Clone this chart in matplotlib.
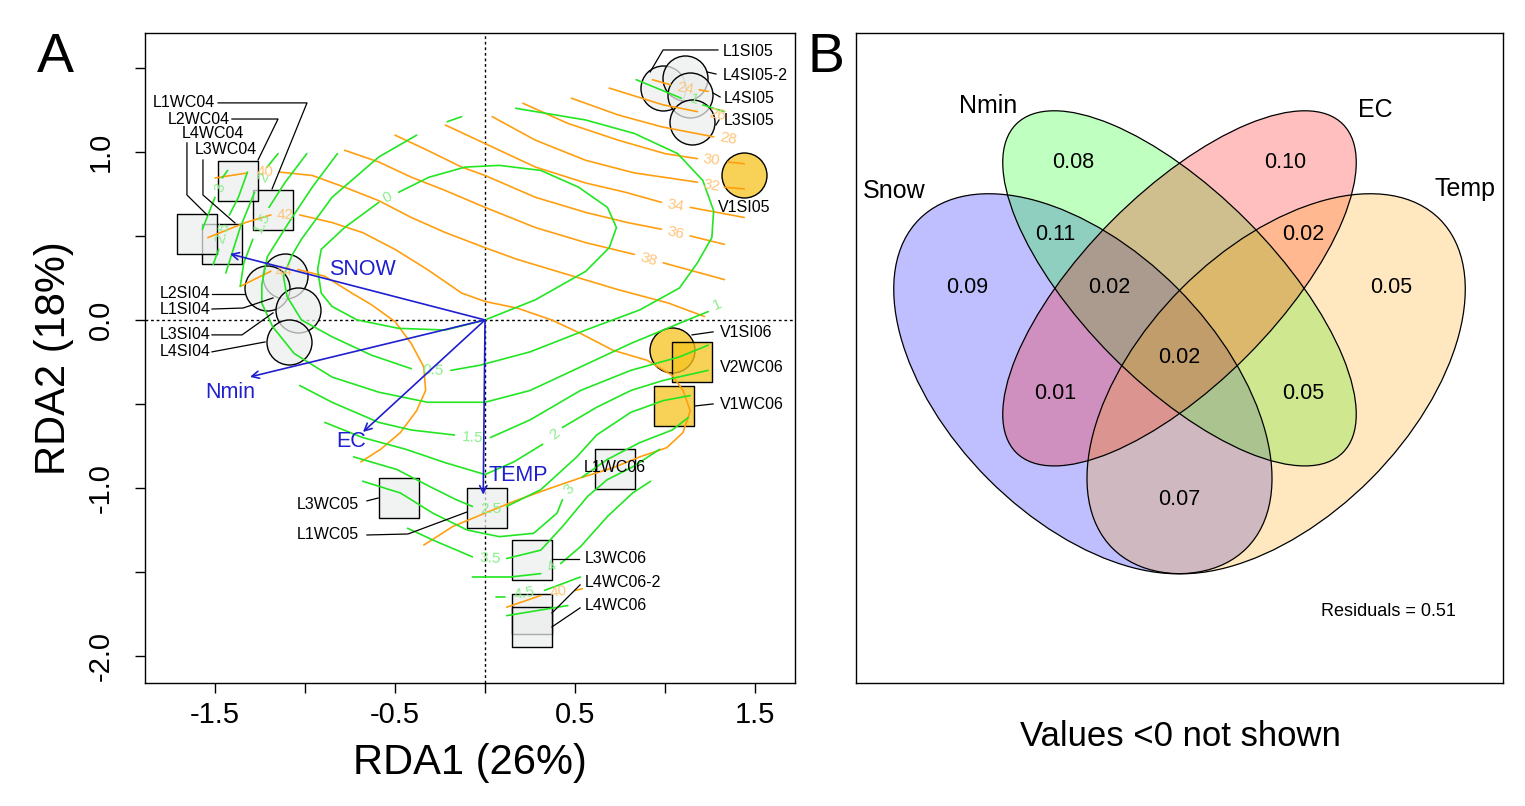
import numpy as np
import matplotlib
matplotlib.use("Agg")
import matplotlib.pyplot as plt
from matplotlib.patches import Ellipse

plt.rcParams['font.family'] = ['Liberation Sans', 'DejaVu Sans']
plt.rcParams['axes.unicode_minus'] = False

# ------------------------------------------------------------------ data (panel A)
site_names = ["L1SI05", "L4SI05-2", "L4SI05", "L3SI05", "V1SI05", "V1SI06",
              "L1SI04", "L2SI04", "L3SI04", "L4SI04",
              "L1WC04", "L2WC04", "L3WC04", "L4WC04",
              "V2WC06", "V1WC06", "L1WC06", "L3WC05", "L1WC05", "L3WC06",
              "L4WC06-2", "L4WC06"]
site_x = [0.99, 1.11, 1.14, 1.15, 1.44, 1.04,
          -1.11, -1.21, -1.04, -1.09,
          -1.18, -1.37, -1.46, -1.60,
          1.15, 1.05, 0.72, -0.48, 0.01, 0.26,
          0.26, 0.26]
site_y = [1.38, 1.44, 1.34, 1.18, 0.86, -0.18,
          0.26, 0.19, 0.06, -0.13,
          0.655, 0.83, 0.45, 0.51,
          -0.25, -0.51, -0.89, -1.06, -1.12, -1.43,
          -1.75, -1.83]
site_shape = ["o", "o", "o", "o", "o", "o",
              "o", "o", "o", "o",
              "s", "s", "s", "s",
              "s", "s", "s", "s", "s", "s",
              "s", "s"]
site_group = ["L", "L", "L", "L", "V", "V",
              "L", "L", "L", "L",
              "L", "L", "L", "L",
              "V", "V", "L", "L", "L", "L",
              "L", "L"]

# label text positions and leader lines
lab_names = ["L1SI05", "L4SI05-2", "L4SI05", "L3SI05", "V1SI05", "V1SI06", "V2WC06", "V1WC06",
             "L1WC06", "L3WC05", "L1WC05", "L3WC06", "L4WC06-2", "L4WC06",
             "L2SI04", "L1SI04", "L3SI04", "L4SI04",
             "L1WC04", "L2WC04", "L4WC04", "L3WC04"]
lab_x = [1.322, 1.322, 1.328, 1.328, 1.294, 1.306, 1.306, 1.306,
         0.55, -1.044, -1.044, 0.556, 0.556, 0.556,
         -1.806, -1.806, -1.806, -1.806,
         -1.844, -1.761, -1.683, -1.611]
lab_y = [1.595, 1.458, 1.321, 1.185, 0.667, -0.077, -0.286, -0.506,
         -0.88, -1.10, -1.28, -1.417, -1.565, -1.702,
         0.155, 0.06, -0.089, -0.19,
         1.292, 1.196, 1.107, 1.012]
leaders = [
    [(0.917, 1.476), (0.989, 1.607), (1.294, 1.607)],
    [(1.233, 1.476), (1.283, 1.464)],
    [(1.267, 1.351), (1.306, 1.327)],
    [(1.283, 1.161), (1.30, 1.19)],
    [],
    [(1.15, -0.089), (1.267, -0.071)],
    [],
    [(1.167, -0.512), (1.267, -0.50)],
    [],
    [(-0.656, -1.077), (-0.594, -1.06)],
    [(-0.656, -1.28), (-0.428, -1.274), (-0.10, -1.143)],
    [(0.372, -1.423), (0.522, -1.423)],
    [(0.528, -1.577), (0.372, -1.744)],
    [(0.528, -1.714), (0.372, -1.827)],
    [(-1.517, 0.155), (-1.339, 0.155)],
    [(-1.517, 0.065), (-1.344, 0.071), (-1.178, 0.131)],
    [(-1.517, -0.089), (-1.35, -0.089), (-1.178, 0.042)],
    [(-1.517, -0.19), (-1.222, -0.131)],
    [(-1.483, 1.292), (-0.989, 1.292), (-1.183, 0.78)],
    [(-1.406, 1.196), (-1.15, 1.196), (-1.261, 0.952)],
    [(-1.656, 1.054), (-1.656, 0.744), (-1.544, 0.625)],
    [(-1.567, 0.952), (-1.567, 0.744), (-1.389, 0.577)],
]

# environmental arrows
env_names = ["SNOW", "Nmin", "EC", "TEMP"]
env_x = [-1.417, -1.306, -0.678, -0.01]
env_y = [0.393, -0.339, -0.667, -1.04]
env_lab_x = [-0.683, -1.417, -0.744, 0.183]
env_lab_y = [0.298, -0.429, -0.726, -0.923]

# orange contour traces (second fitted surface), segments split at labels
o24 = [[(0.93, 1.43), (1.03, 1.40)], [(1.19, 1.37), (1.24, 1.36)]]
o26 = [[(0.69, 1.38), (0.99, 1.28), (1.18, 1.24)]]
o28 = [[(0.48, 1.32), (0.74, 1.22), (0.98, 1.15), (1.27, 1.09)]]
o30 = [[(0.21, 1.29), (0.46, 1.17), (0.74, 1.07), (1.00, 0.99), (1.18, 0.96)],
       [(1.35, 0.94), (1.44, 0.93)]]
o32 = [[(0.04, 1.21), (0.28, 1.07), (0.56, 0.95), (0.83, 0.875), (1.18, 0.82)],
       [(1.33, 0.79), (1.44, 0.78)]]
o34 = [[(-0.22, 1.16), (0.0, 1.05), (0.28, 0.91), (0.56, 0.815), (0.78, 0.76), (0.98, 0.70)],
       [(1.14, 0.67), (1.44, 0.61)]]
o36 = [[(-0.50, 1.10), (-0.32, 1.01), (-0.13, 0.91), (0.0, 0.86), (0.28, 0.73), (0.56, 0.64),
        (0.79, 0.58), (0.98, 0.54)],
       [(1.14, 0.50), (1.33, 0.45)]]
o38 = [[(-0.78, 1.01), (-0.59, 0.94), (-0.41, 0.85), (-0.22, 0.77), (0.0, 0.67), (0.28, 0.55),
        (0.56, 0.46), (0.83, 0.39)],
       [(0.99, 0.34), (1.33, 0.24)]]
o40 = [[(-1.50, 0.845), (-1.32, 0.875)],
       [(-1.14, 0.88), (-0.96, 0.86), (-0.78, 0.79), (-0.59, 0.71), (-0.41, 0.61), (-0.22, 0.52),
        (0.0, 0.43), (0.18, 0.36), (0.46, 0.27), (0.74, 0.18), (1.02, 0.10), (1.22, 0.02)]]
o42 = [[(-1.54, 0.49), (-1.33, 0.58), (-1.19, 0.625)],
       [(-1.03, 0.625), (-0.85, 0.58), (-0.68, 0.52), (-0.50, 0.42), (-0.32, 0.30), (-0.13, 0.16),
        (0.0, 0.11), (0.18, 0.07), (0.37, 0.0), (0.53, -0.08), (0.71, -0.18), (0.90, -0.24),
        (1.04, -0.33), (1.10, -0.42), (1.14, -0.54), (1.10, -0.67), (1.01, -0.76), (0.86, -0.815),
        (0.71, -0.88), (0.53, -0.94), (0.34, -1.01), (0.16, -1.08), (0.0, -1.15), (-0.18, -1.23),
        (-0.34, -1.34)]]
o44 = [[(-1.36, 0.20), (-1.19, 0.29)],
       [(-1.04, 0.30), (-0.89, 0.26), (-0.74, 0.16), (-0.63, 0.09), (-0.50, -0.01), (-0.41, -0.14),
        (-0.34, -0.28), (-0.33, -0.42), (-0.38, -0.54), (-0.47, -0.67), (-0.58, -0.77),
        (-0.69, -0.845)]]
o40b = [[(0.12, -1.71), (0.31, -1.64)], [(0.50, -1.61), (0.54, -1.60)]]
orange_contours = [o24, o26, o28, o30, o32, o34, o36, o38, o40, o42, o44, o40b]
orange_lab_text = ["24", "26", "28", "30", "32", "34", "36", "38", "40", "42", "44", "40"]
orange_lab_x = [1.11, 1.29, 1.35, 1.26, 1.26, 1.06, 1.06, 0.91, -1.22, -1.11, -1.12, 0.41]
orange_lab_y = [1.38, 1.22, 1.08, 0.95, 0.80, 0.68, 0.52, 0.36, 0.88, 0.625, 0.29, -1.62]

# green contour traces (first fitted surface)
g0 = [[(-0.48, 0.76), (-0.31, 0.85), (-0.11, 0.91), (0.08, 0.92), (0.31, 0.89), (0.52, 0.79),
       (0.68, 0.67), (0.73, 0.55), (0.69, 0.43), (0.56, 0.29), (0.28, 0.12), (0.0, 0.0),
       (-0.22, -0.06), (-0.48, -0.05), (-0.71, 0.0), (-0.85, 0.08), (-0.91, 0.16), (-0.93, 0.30),
       (-0.91, 0.42), (-0.78, 0.55), (-0.59, 0.70)]]
g05 = [[(-0.41, -0.29), (-0.63, -0.21), (-0.85, -0.10), (-1.02, 0.0), (-1.10, 0.14), (-1.12, 0.26),
        (-1.07, 0.39), (-1.02, 0.48), (-0.85, 0.73), (-0.59, 0.97), (-0.38, 1.10)],
       [(-0.21, 1.18), (-0.13, 1.21)],
       [(0.17, 1.26), (0.56, 1.19), (0.83, 1.11), (1.07, 0.99), (1.21, 0.83), (1.27, 0.65),
        (1.26, 0.49), (1.18, 0.34), (1.08, 0.19), (0.86, 0.06), (0.56, -0.06), (0.25, -0.19),
        (-0.03, -0.27), (-0.19, -0.30)]]
g1 = [[(-0.82, 0.99), (-0.96, 0.79), (-1.09, 0.58), (-1.21, 0.375), (-1.24, 0.21), (-1.24, 0.10),
       (-1.18, -0.04), (-1.06, -0.20), (-0.85, -0.34), (-0.59, -0.43), (-0.32, -0.49), (0.0, -0.49),
       (0.25, -0.42), (0.53, -0.28), (0.81, -0.14), (1.08, -0.02), (1.24, 0.05)],
      [(0.84, 1.43), (1.09, 1.32)], [(1.21, 1.28), (1.33, 1.24)]]
g15 = [[(-0.99, 0.99), (-1.11, 0.82), (-1.20, 0.67)],
       [(-1.29, 0.48), (-1.34, 0.34), (-1.36, 0.20)],
       [(-1.03, -0.39), (-0.85, -0.49), (-0.59, -0.61), (-0.41, -0.655), (-0.17, -0.685)],
       [(0.03, -0.70), (0.25, -0.595), (0.53, -0.42), (0.81, -0.30), (1.08, -0.22), (1.24, -0.15)]]
g2 = [[(-1.15, 0.99), (-1.21, 0.91)],
      [(-1.28, 0.76), (-1.36, 0.55), (-1.44, 0.28)],
      [(-0.89, -0.61), (-0.68, -0.70), (-0.44, -0.77), (-0.22, -0.85), (0.0, -0.92), (0.16, -0.845),
       (0.32, -0.74)],
      [(0.43, -0.64), (0.62, -0.52), (0.81, -0.42), (0.99, -0.36), (1.24, -0.30)]]
g25 = [[(-1.32, 0.88), (-1.37, 0.73), (-1.42, 0.625)],
       [(-1.48, 0.42), (-1.51, 0.33)],
       [(-0.73, -0.815), (-0.49, -0.89), (-0.31, -0.99), (-0.16, -1.07), (-0.07, -1.11)],
       [(0.12, -1.11), (0.31, -1.01), (0.51, -0.815), (0.62, -0.685), (0.81, -0.55), (0.99, -0.48),
        (1.14, -0.45)]]
g3 = [[(-1.43, 0.89), (-1.46, 0.845)],
      [(-1.50, 0.73), (-1.57, 0.54)],
      [(-0.68, -0.96), (-0.47, -1.03), (-0.29, -1.15), (-0.10, -1.25), (0.08, -1.29), (0.27, -1.27),
       (0.40, -1.15), (0.43, -1.07)],
      [(0.54, -0.935), (0.68, -0.83), (0.86, -0.73), (1.04, -0.655), (1.13, -0.58)]]
g35 = [[(-0.43, -1.24), (-0.29, -1.31), (-0.07, -1.41)],
       [(0.12, -1.42), (0.31, -1.37), (0.43, -1.23), (0.57, -1.05), (0.68, -0.95), (0.82, -0.875),
        (0.97, -0.77)]]
g4 = [[(-0.07, -1.53), (0.14, -1.53), (0.31, -1.51)],
      [(0.42, -1.45), (0.53, -1.35), (0.68, -1.17), (0.82, -1.03), (0.92, -0.96)]]
g45 = [[(0.06, -1.65), (0.11, -1.65)], [(0.33, -1.61), (0.53, -1.53)]]
g5 = [[(0.12, -1.76), (0.46, -1.70)]]
green_contours = [g0, g05, g1, g15, g2, g25, g3, g35, g4, g45, g5]
green_lab_text = ["0", "0.5", "1", "1", "1.5", "1.5", "2", "2", "2.5", "2.5", "3", "3", "3.5", "4", "4.5"]
green_lab_x = [-0.54, -0.29, 1.29, 1.16, -1.24, -0.07, -1.23, 0.39, -1.46, 0.03, -1.47, 0.47, 0.03, 0.37, 0.22]
green_lab_y = [0.73, -0.30, 0.09, 1.31, 0.58, -0.70, 0.85, -0.68, 0.52, -1.125, 0.79, -1.01, -1.42, -1.47, -1.625]

x_ticks = [-1.5, -1.0, -0.5, 0.0, 0.5, 1.0, 1.5]
x_ticklabels = ["-1.5", "", "-0.5", "", "0.5", "", "1.5"]
y_ticks = [-2.0, -1.5, -1.0, -0.5, 0.0, 0.5, 1.0, 1.5]
y_ticklabels = ["-2.0", "", "-1.0", "", "0.0", "", "1.0", ""]

# ------------------------------------------------------------------ data (panel B)
venn_sets = ["Snow", "Nmin", "EC", "Temp"]
venn_fracs = ["0.08", "0.10", "0.11", "0.02", "0.09", "0.02", "0.05", "0.02", "0.01", "0.05", "0.07"]
residuals = 0.51

# ------------------------------------------------------------------ figure
fig = plt.figure(figsize=(15.25, 8.06), dpi=100)
axA = fig.add_axes([145 / 1525, 123 / 806, 650 / 1525, 650 / 806])
axA.set_xlim(-1.889, 1.722)
axA.set_ylim(-2.161, 1.708)

GRAY_FC = (0.925, 0.935, 0.935, 0.72)
GOLD_FC = (0.96, 0.77, 0.13, 0.76)
for nm, x, y, mk, grp in zip(site_names, site_x, site_y, site_shape, site_group):
    fc = GOLD_FC if grp == "V" else GRAY_FC
    s = 1050 if mk == "o" else 870
    axA.scatter([x], [y], s=s, marker=mk, facecolors=[fc], edgecolors="black",
                linewidths=1.0, zorder=2)

GREEN = "#22e622"
ORANGE = "#ff9f10"
GREEN_LAB = "#8cee8c"
ORANGE_LAB = "#ffc57a"


def draw_contours(ax, contours, color):
    for segs in contours:
        for seg in segs:
            xs = [p[0] for p in seg]
            ys = [p[1] for p in seg]
            ax.plot(xs, ys, color=color, lw=1.2, zorder=3, solid_capstyle="round",
                    solid_joinstyle="round")


def label_contours(ax, contours, texts, xs, ys, color):
    T = ax.transData
    for t, lx, ly in zip(texts, xs, ys):
        lp = T.transform((lx, ly))
        best = None
        for segs in contours:
            pts = np.array([p for seg in segs for p in seg])
            dp = T.transform(pts)
            d = np.hypot(dp[:, 0] - lp[0], dp[:, 1] - lp[1])
            if best is None or d.min() < best[0]:
                best = (d.min(), dp, d)
        _, dp, d = best
        order = np.argsort(d)
        p1, p2 = dp[order[0]], dp[order[1]]
        ang = np.degrees(np.arctan2(p2[1] - p1[1], p2[0] - p1[0]))
        if ang > 90:
            ang -= 180
        if ang < -90:
            ang += 180
        ax.text(lx, ly, t, color=color, fontsize=11, rotation=ang, rotation_mode="anchor",
                ha="center", va="center", zorder=4)


draw_contours(axA, orange_contours, ORANGE)
draw_contours(axA, green_contours, GREEN)
label_contours(axA, orange_contours, orange_lab_text, orange_lab_x, orange_lab_y, ORANGE_LAB)
label_contours(axA, green_contours, green_lab_text, green_lab_x, green_lab_y, GREEN_LAB)

axA.axhline(0, color="black", lw=1.0, ls=(0, (2, 2)), zorder=1)
axA.axvline(0, color="black", lw=1.0, ls=(0, (2, 2)), zorder=1)

BLUE = "#1f1fcf"
for nm, ex, ey, lx, ly in zip(env_names, env_x, env_y, env_lab_x, env_lab_y):
    axA.annotate("", xy=(ex, ey), xytext=(0, 0),
                 arrowprops=dict(arrowstyle="->", color=BLUE, lw=1.2, shrinkA=0, shrinkB=0,
                                 mutation_scale=13), zorder=5)
    axA.text(lx, ly, nm, color=BLUE, fontsize=15.5, ha="center", va="center", zorder=6)

for nm, lx, ly, ld in zip(lab_names, lab_x, lab_y, leaders):
    axA.text(lx, ly, nm, fontsize=11.5, ha="left", va="center", zorder=7)
    if ld:
        axA.plot([p[0] for p in ld], [p[1] for p in ld], color="black", lw=0.9, zorder=6)

axA.set_xticks(x_ticks)
axA.set_xticklabels(x_ticklabels)
axA.set_yticks(y_ticks)
axA.set_yticklabels(y_ticklabels)
axA.tick_params(axis="both", direction="out", length=7, width=1, labelsize=21)
axA.tick_params(axis="x", pad=6)
axA.tick_params(axis="y", pad=15, labelrotation=90)
for lab in axA.get_yticklabels():
    lab.set_va("center")
for sp in axA.spines.values():
    sp.set_linewidth(1.0)
axA.set_xlabel("RDA1 (26%)", fontsize=30, labelpad=10)
axA.set_ylabel("RDA2 (18%)", fontsize=30, labelpad=9)

# ------------------------------------------------------------------ panel B
axB = fig.add_axes([856 / 1525, 123 / 806, 647 / 1525, 650 / 806])
axB.set_xlim(15, 1555)
axB.set_ylim(1550, 10)
axB.set_xticks([])
axB.set_yticks([])
for sp in axB.spines.values():
    sp.set_linewidth(1.0)

ell_cx = [555, 785, 785, 1015]
ell_cy = [841, 615, 615, 841]
ell_w = [1102, 1100, 1100, 1102]
ell_h = [638, 454, 454, 638]
ell_ang = [45, 45, -45, -45]
ell_col = [(0, 0, 1, 0.25), (0, 1, 0, 0.25), (1, 0, 0, 0.25), (1, 0.647, 0, 0.25)]
for cx, cy, w, h, a, c in zip(ell_cx, ell_cy, ell_w, ell_h, ell_ang, ell_col):
    axB.add_patch(Ellipse((cx, cy), w, h, angle=a, facecolor=c, edgecolor="none"))
for cx, cy, w, h, a in zip(ell_cx, ell_cy, ell_w, ell_h, ell_ang):
    axB.add_patch(Ellipse((cx, cy), w, h, angle=a, facecolor="none", edgecolor="black", lw=0.9))

set_lab_x = [105, 330, 1250, 1465]
set_lab_y = [385, 183, 193, 380]
for t, x, y in zip(venn_sets, set_lab_x, set_lab_y):
    axB.text(x, y, t, fontsize=18, ha="center", va="center")

frac_x = [533, 1037, 490, 1080, 280, 617, 1290, 785, 490, 1080, 785]
frac_y = [318, 318, 487, 487, 612, 612, 612, 780, 865, 865, 1115]
for t, x, y in zip(venn_fracs, frac_x, frac_y):
    axB.text(x, y, t, fontsize=15.5, ha="center", va="center")
axB.text(1282, 1380, "Residuals = %.2f" % residuals, fontsize=13, ha="center", va="center")

fig.text(1180 / 1525, 1 - 737 / 806, "Values <0 not shown", fontsize=25, ha="center", va="center")
fig.text(55 / 1525, 1 - 58 / 806, "A", fontsize=40, ha="center", va="center")
fig.text(826 / 1525, 1 - 58 / 806, "B", fontsize=40, ha="center", va="center")

fig.savefig("out.png", dpi=100)
